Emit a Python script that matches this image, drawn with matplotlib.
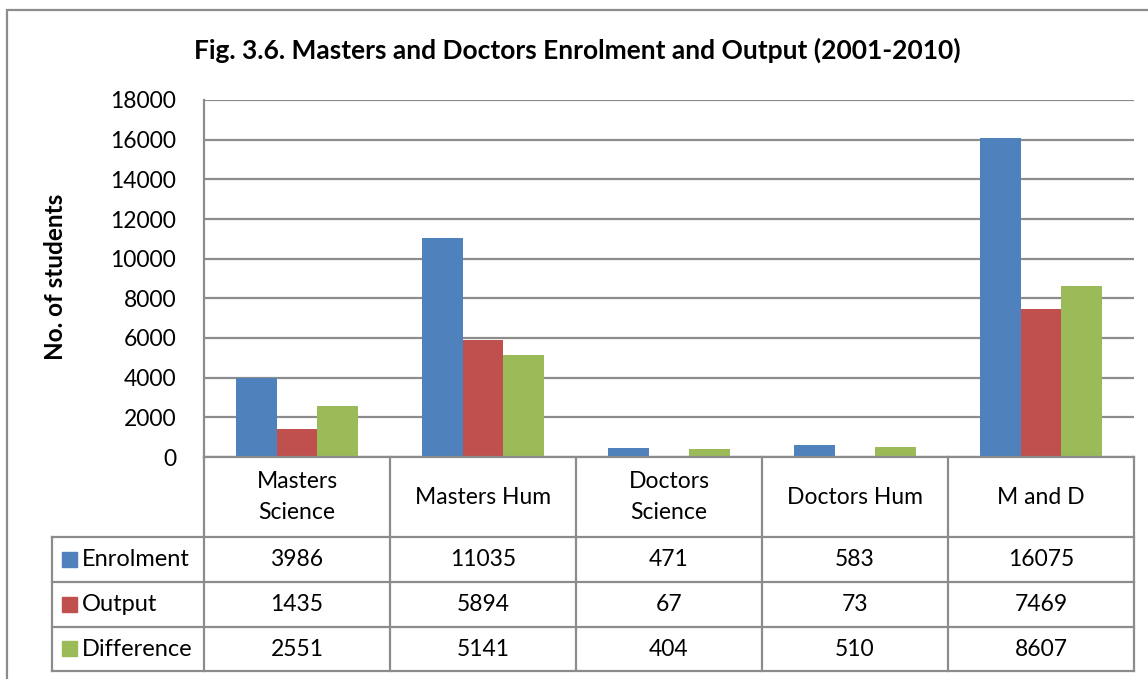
import numpy as np
import matplotlib.pyplot as plt
from matplotlib.patches import Rectangle
from matplotlib.lines import Line2D

plt.rcParams['font.family'] = ['Lato', 'DejaVu Sans']

categories = ['Masters\nScience', 'Masters Hum', 'Doctors\nScience', 'Doctors Hum', 'M and D']
series_names = ['Enrolment', 'Output', 'Difference']
enrolment = [3986, 11035, 471, 583, 16075]
output = [1435, 5894, 67, 73, 7469]
difference = [2551, 5141, 404, 510, 8607]
yticks = [0, 2000, 4000, 6000, 8000, 10000, 12000, 14000, 16000, 18000]

colors = ['#4F81BD', '#C0504D', '#9BBB59']
grey = '#8C8C8C'
W, H = 1148, 679
fs = 16.5

fig = plt.figure(figsize=(W / 100, H / 100), dpi=100)


def fx(px):
    return px / W


def fy(py):
    return 1 - py / H


# outer chart border (runs off the right/bottom edge)
fig.patches.append(Rectangle((fx(7), fy(700)), fx(1200) - fx(7), fy(10) - fy(700),
                             transform=fig.transFigure, fill=False, ec=grey, lw=1.6))

# plot area: x 204..1134, y 100..457 px
left, right, top, bottom = 204, 1134, 100, 457
ax = fig.add_axes([fx(left), fy(bottom), fx(right) - fx(left), fy(top) - fy(bottom)])

x = np.arange(len(categories))
bw = 0.22
for i, vals in enumerate([enrolment, output, difference]):
    ax.bar(x + (i - 1) * bw, vals, bw, color=colors[i], zorder=3)

ax.set_xlim(-0.5, len(categories) - 0.5)
ax.set_ylim(0, 18000)
ax.set_yticks(yticks)
ax.set_yticklabels([str(v) for v in yticks], fontsize=fs)
ax.tick_params(axis='y', length=0, pad=20)
ax.set_xticks([])
ax.yaxis.grid(True, color=grey, lw=1.6, zorder=0)
for s in ['top', 'right', 'bottom']:
    ax.spines[s].set_visible(False)
ax.spines['left'].set_color(grey)
ax.spines['left'].set_linewidth(1.6)

fig.text(fx(56), fy(277), 'No. of students', rotation=90, fontsize=17.5,
         fontweight='bold', ha='center', va='center')
fig.text(fx(577), fy(50), 'Fig. 3.6. Masters and Doctors Enrolment and Output (2001-2010)',
         fontsize=19, fontweight='bold', ha='center', va='center')

# data table below the plot
tab_left = 52
col_w = (right - left) / len(categories)
row_y = [457, 537, 582, 627, 671]


def hline(y, x0, x1):
    fig.add_artist(Line2D([fx(x0), fx(x1)], [fy(y), fy(y)], color=grey, lw=1.6))


def vline(xp, y0, y1):
    fig.add_artist(Line2D([fx(xp), fx(xp)], [fy(y0), fy(y1)], color=grey, lw=1.6))


hline(row_y[0], left, right)
for yy in row_y[1:]:
    hline(yy, tab_left, right)
vline(tab_left, row_y[1], row_y[-1])
for j in range(len(categories) + 1):
    vline(left + j * col_w, row_y[0], row_y[-1])

for j, cat in enumerate(categories):
    cx = left + (j + 0.5) * col_w
    fig.text(fx(cx), fy((row_y[0] + row_y[1]) / 2), cat, fontsize=fs,
             ha='center', va='center', linespacing=1.55)

for i, (name, vals) in enumerate(zip(series_names, [enrolment, output, difference])):
    cy = (row_y[i + 1] + row_y[i + 2]) / 2
    fig.patches.append(Rectangle((fx(62), fy(cy + 7)), fx(15), fy(0) - fy(15),
                                 transform=fig.transFigure, color=colors[i]))
    fig.text(fx(82), fy(cy), name, fontsize=17, ha='left', va='center')
    for j, v in enumerate(vals):
        fig.text(fx(left + (j + 0.5) * col_w), fy(cy), str(v), fontsize=fs,
                 ha='center', va='center')

fig.savefig('out.png', dpi=100)
